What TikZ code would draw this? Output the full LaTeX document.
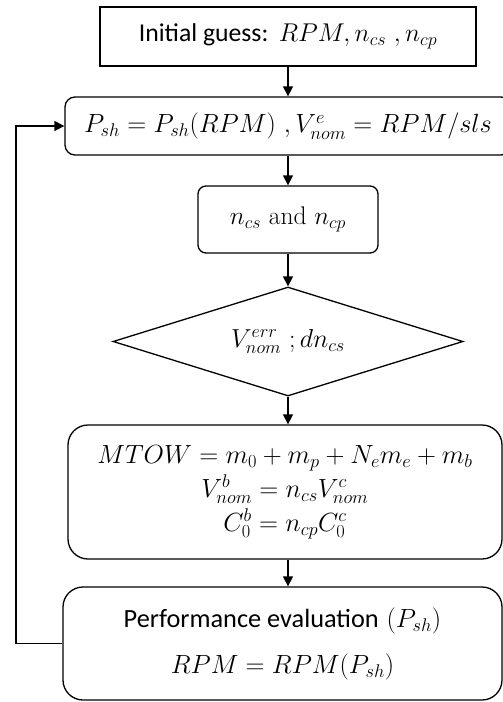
\RequirePackage{fix-cm}
\documentclass[tikz,border=0pt]{standalone}
\usepackage{amsmath}
\usepackage{fontspec}
\newfontfamily\carlito{Carlito}
\usetikzlibrary{arrows.meta,shapes.geometric}
\tikzset{
  boxbase/.style={draw, line width=1.3pt, inner sep=0pt, align=center},
  sharpbox/.style={boxbase},
  roundbox/.style={boxbase, rounded corners=#1},
  decbox/.style={draw, line width=1.3pt, diamond, inner sep=0pt, shape aspect=3.2},
  arr/.style={line width=1.3pt, -{Triangle[width=10pt,length=10pt]}},
  bigtext/.style={font=\fontsize{26.3}{31}\selectfont},
  midtext/.style={font=\fontsize{25.7}{30}\selectfont}
}
\begin{document}
\begin{tikzpicture}[x=1pt,y=-1pt]
\useasboundingbox (0,0) rectangle (503,702);
\node[sharpbox, midtext, minimum width=376pt, minimum height=59pt] (b1) at (288,36.5)
  {{\carlito Initial guess:} $RPM, n_{cs}\ , n_{cp}$};
\node[roundbox=10pt, bigtext, minimum width=446pt, minimum height=58pt] (b2) at (288,126)
  {$P_{sh}=P_{sh}(RPM)\ , V^{e}_{nom}=RPM/sls$};
\node[roundbox=8pt, font=\fontsize{25.5}{30}\selectfont, minimum width=180pt, minimum height=67pt] (b3) at (288,219.5)
  {$n_{cs}$ and $n_{cp}$};
\node[decbox, font=\fontsize{26}{30}\selectfont, minimum width=350pt, minimum height=109pt] (b4) at (288,341.5)
  {$V^{err}_{nom}\ ; dn_{cs}$};
\node[roundbox=20pt, minimum width=434pt, minimum height=134pt, font=\fontsize{26.3}{34}\selectfont] (b5) at (285,492)
  {$MTOW=m_0+m_p+N_em_e+m_b$\\ $V^{b}_{nom}=n_{cs}V^{c}_{nom}$\\ $C^{b}_{0}=n_{cp}C^{c}_{0}$};
\node[roundbox=20pt, minimum width=439pt, minimum height=113pt, font=\fontsize{26.3}{31}\selectfont] (b6) at (282.5,643.5)
  {{\carlito Performance evaluation} $(P_{sh})$\\[15pt] $RPM=RPM(P_{sh})$};
\coordinate (fb) at (16,643.5);
\draw[arr] (b1.south) -- (b1.south |- b2.north);
\draw[arr] (b2.south -| b1.south) -- (b3.north);
\draw[arr] (b3.south) -- (b4.north);
\draw[arr] (b4.south) -- (b4.south |- b5.north);
\draw[arr] (b5.south -| b4.south) -- (b4.south |- b6.north);
\draw[arr] (b6.west) -- (fb) |- (b2.west);
\end{tikzpicture}
\end{document}
